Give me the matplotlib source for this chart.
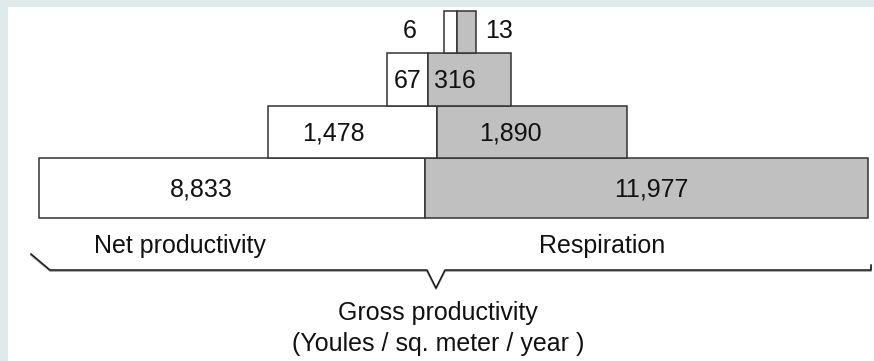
import numpy as np
import matplotlib
matplotlib.use("Agg")
import matplotlib.pyplot as plt
from matplotlib.patches import Rectangle

# energy flow per trophic level, bottom level first (Joules / sq. meter / year)
net_productivity = [8833, 1478, 67, 6]
respiration = [11977, 1890, 316, 13]
net_labels = ["8,833", "1,478", "67", "6"]
resp_labels = ["11,977", "1,890", "316", "13"]

# layout in pixel units (y grows downward)
row_top = [158, 106, 53, 11]
row_height = [60, 52, 53, 42]
split_x = [425, 437, 428, 457]
net_text_pos = [0.42, 0.39, 0.5]
resp_text_pos = [0.51, 0.385, 0.32]

# schematic widths: compress the huge range with a power law
def bar_width(v):
    return 5.9 * np.power(v, 0.46)

plt.rcParams["font.family"] = ["Liberation Sans", "DejaVu Sans"]

fig = plt.figure(figsize=(8.74, 3.61), dpi=100)
fig.patch.set_facecolor("#dfeaea")
ax = fig.add_axes([0, 0, 1, 1])
ax.set_xlim(0, 874)
ax.set_ylim(361, 0)
ax.axis("off")

ax.add_patch(Rectangle((8, 7), 870, 360, facecolor="white", edgecolor="none", zorder=0))

edge = "#333333"
txt = "#111111"
fs = 18

for i in range(len(net_productivity)):
    nw = bar_width(net_productivity[i])
    rw = bar_width(respiration[i])
    left = split_x[i] - nw
    ax.barh(row_top[i], nw, height=row_height[i], left=left, align="edge",
            color="white", edgecolor=edge, linewidth=1.1, zorder=2)
    ax.barh(row_top[i], rw, height=row_height[i], left=split_x[i], align="edge",
            color="#c0c0c0", edgecolor=edge, linewidth=1.1, zorder=2)
    yc = row_top[i] + row_height[i] / 2 + 2
    if i < len(net_text_pos):
        ax.text(left + nw * net_text_pos[i], yc, net_labels[i], ha="center",
                va="center", fontsize=fs, color=txt, zorder=3)
        ax.text(split_x[i] + rw * resp_text_pos[i], yc, resp_labels[i], ha="center",
                va="center", fontsize=fs, color=txt, zorder=3)
    else:
        # top level is too narrow, labels go outside
        ax.text(left - 27, yc - 3, net_labels[i], ha="right", va="center",
                fontsize=fs, color=txt, zorder=3)
        ax.text(split_x[i] + rw + 9, yc - 3, resp_labels[i], ha="left", va="center",
                fontsize=fs, color=txt, zorder=3)

ax.text(180, 246, "Net productivity", ha="center", va="center", fontsize=fs, color=txt)
ax.text(602, 246, "Respiration", ha="center", va="center", fontsize=fs, color=txt)

# brace under the base
bx = [31, 50, 427, 436, 445, 871, 871]
by = [255, 271, 271, 289, 271, 271, 266]
ax.plot(bx, by, color="#999999", linewidth=1.2, zorder=1)
ax.plot(bx, [y - 1 for y in by], color="#1a1a1a", linewidth=1.1, zorder=1)

ax.text(438, 313, "Gross productivity", ha="center", va="center", fontsize=fs, color=txt)
ax.text(438, 344, "(Youles / sq. meter / year )", ha="center", va="center",
        fontsize=fs, color=txt)

fig.savefig("out.png", dpi=100, facecolor=fig.get_facecolor())
